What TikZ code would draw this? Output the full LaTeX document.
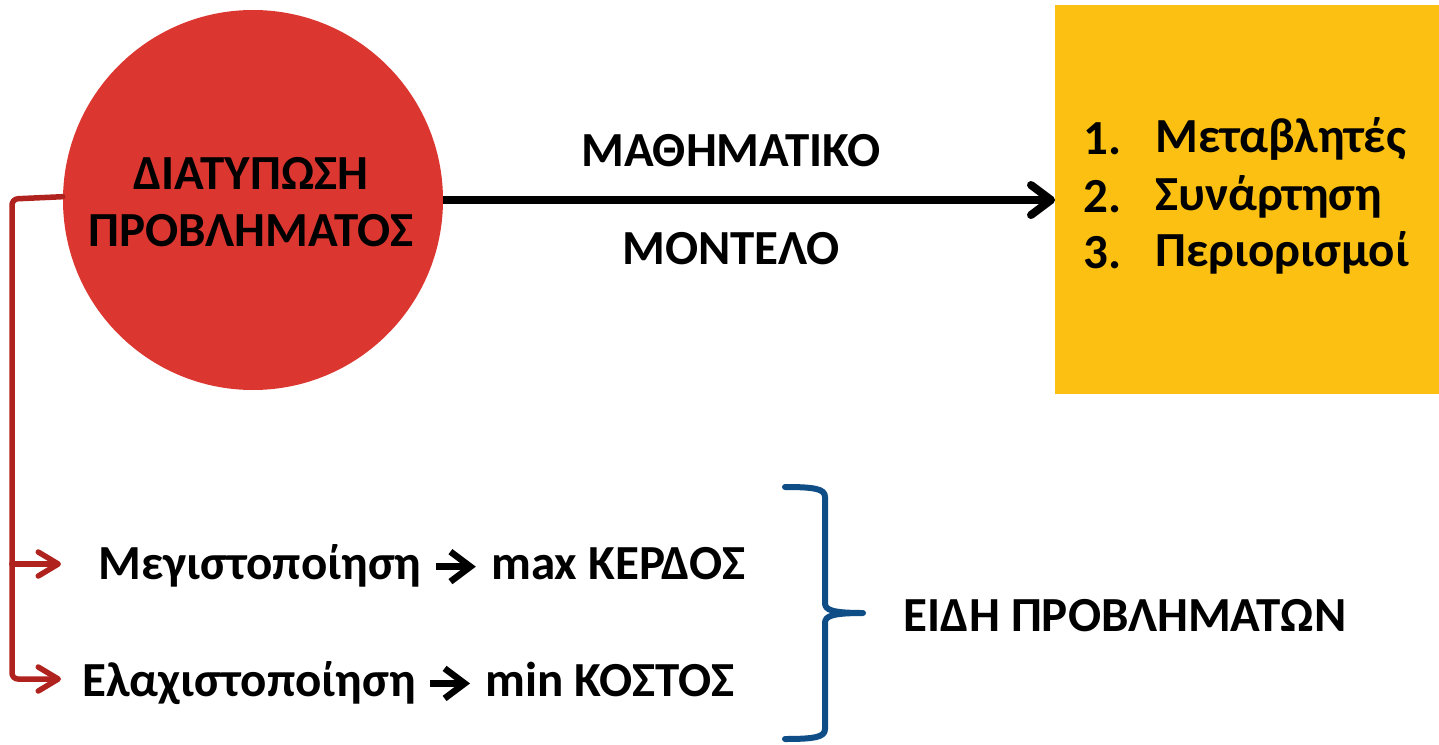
\documentclass[tikz,border=0pt]{standalone}
\usepackage{fontspec}
\setmainfont{Carlito}
\usetikzlibrary{arrows.meta}
\definecolor{circred}{HTML}{DC3630}
\definecolor{linered}{HTML}{B0221E}
\definecolor{boxyellow}{HTML}{FBC012}
\definecolor{braceblue}{HTML}{0F4D87}
\tikzset{
  txt/.style={font=\fontsize{49}{58}\selectfont\bfseries, inner sep=0pt, text=black},
  redline/.style={draw=linered, line width=5.5pt, line cap=round, line join=round},
  redarrow/.style={redline, -{Straight Barb[length=20pt,width=24pt,line cap=round,line join=round]}},
  blackarrow/.style={draw=black, line width=8pt, -{Straight Barb[length=20pt,width=30pt,line cap=round,line join=round]}},
  bracestyle/.style={draw=braceblue, line width=6pt, line cap=round, line join=round},
  inlinearrow/.style={draw=black, line width=6.5pt, -{Straight Barb[length=20pt,width=30pt,line join=miter]}},
}
\newcommand{\rarr}{\tikz[baseline={(0pt,-13pt)}, x=1pt, y=1pt]\draw[inlinearrow] (0,0) -- (40,0);}
\begin{document}
\begin{tikzpicture}[x=1pt,y=-1pt]
\useasboundingbox (0,0) rectangle (1439,744);
% circle
\node[circle, fill=circred, minimum size=380pt, inner sep=0pt] (circ) at (253,200) {};
\node[txt, align=center, font=\fontsize{49}{57}\selectfont\bfseries] (circtext) at (251,202) {ΔΙΑΤΥΠΩΣΗ\\ΠΡΟΒΛΗΜΑΤΟΣ};
% yellow box
\node[fill=boxyellow, minimum width=384pt, minimum height=389pt, inner sep=0pt, anchor=north west] (box) at (1055,5) {};
\node[txt, anchor=west] (l1n) at (1083,139) {1.};
\node[txt, anchor=west] (l1) at (1155,139) {Μεταβλητές};
\node[txt, anchor=west] (l2n) at (1083,197) {2.};
\node[txt, anchor=west] (l2) at (1155,197) {Συνάρτηση};
\node[txt, anchor=west] (l3n) at (1083,253) {3.};
\node[txt, anchor=west] (l3) at (1155,253) {Περιορισμοί};
% main arrow
\draw[blackarrow] (circ.east) -- (box.west |- circ.east);
\node[txt] (m1) at (731,151) {ΜΑΘΗΜΑΤΙΚΟ};
\node[txt] (m2) at (731,249) {ΜΟΝΤΕΛΟ};
% red connectors
\coordinate (corner) at (12,199);
\coordinate (b1) at (12,564);
\coordinate (b2) at (12,679);
\coordinate (t1) at (61,564);
\coordinate (t2) at (61,679);
\draw[redline, rounded corners=6pt] (circ.179) -- (corner) -- (b1);
\draw[redarrow, rounded corners=6pt] (b1) -- (b2) -- (t2);
\draw[redarrow] (b1) -- (t1);
\node[txt, anchor=west] (max) at (98,566) {Μεγιστοποίηση \rarr\ max ΚΕΡΔΟΣ};
\node[txt, anchor=west] (min) at (82,683) {Ελαχιστοποίηση \rarr\ min ΚΟΣΤΟΣ};
% brace
\coordinate (bt) at (785,487);
\coordinate (bm) at (863,613);
\coordinate (bb) at (785,739);
\draw[bracestyle] (bt) .. controls (815,487) and (825,489) .. (825,497) -- (825,603)
  .. controls (825,610) and (832,613) .. (bm)
  .. controls (832,613) and (825,616) .. (825,623) -- (825,729)
  .. controls (825,737) and (815,739) .. (bb);
\node[txt] (kinds) at (1125,616) {ΕΙΔΗ ΠΡΟΒΛΗΜΑΤΩΝ};
\end{tikzpicture}
\end{document}
